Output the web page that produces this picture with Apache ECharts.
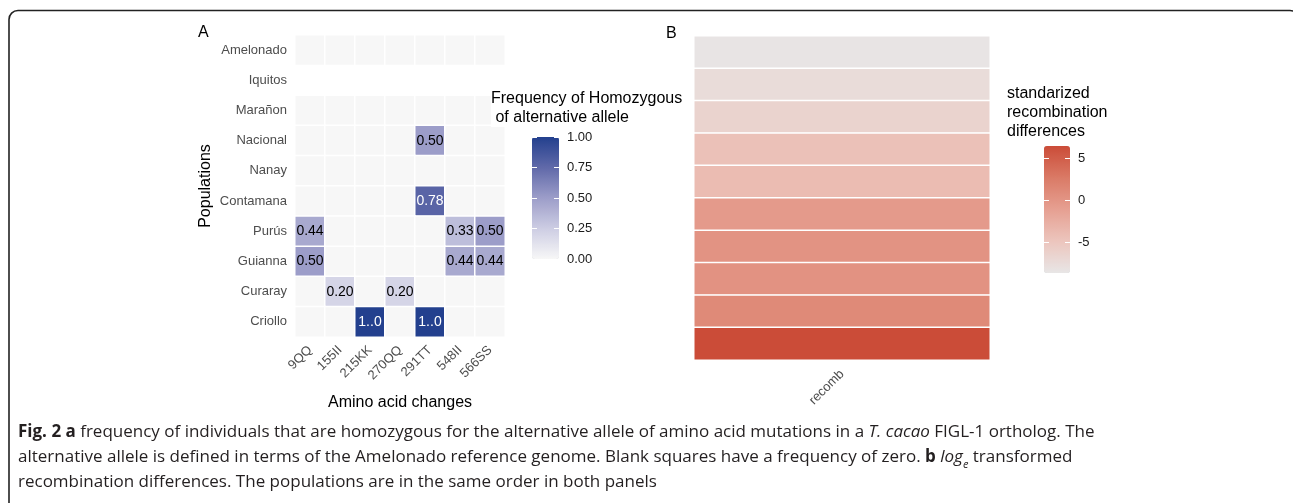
<!DOCTYPE html>
<html>
<head>
<meta charset="utf-8">
<script src="https://cdn.jsdelivr.net/npm/echarts@6/dist/echarts.min.js"></script>
<style>
  html, body { margin: 0; padding: 0; background: #fff; }
  #chart { width: 1293px; height: 503px; }
</style>
</head>
<body>
<div id="chart"></div>
<script>
// populations, top to bottom (same order in both panels)
const populations = ['Amelonado', 'Iquitos', 'Marañon', 'Nacional', 'Nanay', 'Contamana', 'Purús', 'Guianna', 'Curaray', 'Criollo'];
const mutations = ['9QQ', '155II', '215KK', '270QQ', '291TT', '548II', '566SS'];

// frequency of homozygous alternative allele, one row per population (null = no tiles)
const freq = [
    [0, 0, 0, 0, 0, 0, 0],          // Amelonado
    null,                           // Iquitos
    [0, 0, 0, 0, 0, 0, 0],          // Marañon
    [0, 0, 0, 0, 0.50, 0, 0],       // Nacional
    [0, 0, 0, 0, 0, 0, 0],          // Nanay
    [0, 0, 0, 0, 0.78, 0, 0],       // Contamana
    [0.44, 0, 0, 0, 0, 0.33, 0.50], // Purús
    [0.50, 0, 0, 0, 0, 0.44, 0.44], // Guianna
    [0, 0.20, 0, 0.20, 0, 0, 0],    // Curaray
    [0, 0, 1.0, 0, 1.0, 0, 0]       // Criollo
];

// standardized recombination differences (log_e), same population order
const recombDiff = [-8.4, -7.4, -6.4, -4.4, -3.9, -0.5, 0.2, 0.3, 1.1, 6.4];
const recombCats = ['recomb'];

const recombTicks = [-5, 0, 5];
const recombRange = [-8.58, 6.42];

const blues = ['#f7f7f7', '#cdcde3', '#9c9dc9', '#6069a9', '#23408e'];
const reds = ['#e8e6e6', '#ecc5bd', '#e6a092', '#da7a66', '#cb4c38'];

const FONT = 'Liberation Sans, Arial, sans-serif';
const CAPTION_FONT = 'Open Sans, sans-serif';

const freqData = [];
freq.forEach((row, y) => {
    if (!row) return;
    row.forEach((v, x) => {
        freqData.push({
            value: [x, y, v],
            label: {
                show: v > 0,
                color: v >= 0.75 ? '#fff' : '#000'
            }
        });
    });
});

const recombData = recombDiff.map((v, y) => [0, y, v]);

const chart = echarts.init(document.getElementById('chart'));

const catLabel = { color: '#4d4d4d', fontSize: 13, fontFamily: FONT };

chart.setOption({
    animation: false,
    backgroundColor: '#fff',
    textStyle: { fontFamily: FONT },
    grid: [
        { left: 295, top: 35, width: 210, height: 302 },
        { left: 694, top: 36, width: 296, height: 324 },
        { left: 532, top: 137, width: 27, height: 122 },
        { left: 1044, top: 146, width: 26, height: 127 }
    ],
    xAxis: [
        {
            gridIndex: 0, type: 'category', data: mutations, offset: 5,
            axisLine: { show: false },
            axisTick: { alignWithLabel: true, length: 3, lineStyle: { color: '#333' } },
            axisLabel: Object.assign({ rotate: 45, margin: 6, interval: 0 }, catLabel),
            splitLine: { show: false },
            name: 'Amino acid changes', nameLocation: 'middle', nameGap: 53,
            nameTextStyle: { color: '#000', fontSize: 16, fontFamily: FONT }
        },
        {
            gridIndex: 1, type: 'category', data: recombCats,
            axisLine: { show: false }, axisTick: { show: false },
            axisLabel: Object.assign({ rotate: 45, margin: 12 }, catLabel)
        },
        { gridIndex: 2, type: 'value', show: false },
        { gridIndex: 3, type: 'value', show: false }
    ],
    yAxis: [
        {
            gridIndex: 0, type: 'category', data: populations, inverse: true, offset: 5,
            axisLine: { show: false },
            axisTick: { alignWithLabel: true, length: 3, lineStyle: { color: '#333' } },
            axisLabel: Object.assign({ margin: 3, interval: 0 }, catLabel),
            splitLine: { show: false },
            name: 'Populations', nameLocation: 'middle', nameGap: 76, nameRotate: 90,
            nameTextStyle: { color: '#000', fontSize: 16, fontFamily: FONT }
        },
        {
            gridIndex: 1, type: 'category', data: populations, inverse: true,
            axisLine: { show: false }, axisTick: { show: false }, axisLabel: { show: false }
        },
        // colour bar A: white tick dashes on the left edge
        {
            gridIndex: 2, type: 'value', min: 0, max: 1, interval: 0.25, position: 'left', z: 10,
            axisLine: { show: false }, splitLine: { show: false }, axisLabel: { show: false },
            axisTick: { inside: true, length: 5, lineStyle: { color: '#fff', width: 1 } }
        },
        // colour bar A: right dashes and labels
        {
            gridIndex: 2, type: 'value', min: 0, max: 1, interval: 0.25, position: 'right', z: 10,
            axisLine: { show: false }, splitLine: { show: false },
            axisTick: { inside: true, length: 5, lineStyle: { color: '#fff', width: 1 } },
            axisLabel: { margin: 8, color: '#1a1a1a', fontSize: 13, fontFamily: FONT, formatter: v => v.toFixed(2) }
        },
        // colour bar B
        {
            gridIndex: 3, type: 'value', min: recombRange[0], max: recombRange[1], position: 'left', z: 10,
            axisLine: { show: false }, splitLine: { show: false }, axisLabel: { show: false },
            axisTick: { inside: true, length: 5, customValues: recombTicks, lineStyle: { color: '#fff', width: 1 } }
        },
        {
            gridIndex: 3, type: 'value', min: recombRange[0], max: recombRange[1], position: 'right', z: 10,
            axisLine: { show: false }, splitLine: { show: false },
            axisTick: { inside: true, length: 5, customValues: recombTicks, lineStyle: { color: '#fff', width: 1 } },
            axisLabel: { margin: 8, color: '#1a1a1a', fontSize: 13, fontFamily: FONT, customValues: recombTicks }
        }
    ],
    visualMap: [
        {
            type: 'continuous', seriesIndex: 0, min: 0, max: 1,
            left: 532, top: 137, itemWidth: 27, itemHeight: 122, padding: 0,
            calculable: false, hoverLink: false, z: 2,
            inRange: { color: blues }
        },
        {
            type: 'continuous', seriesIndex: 1, min: recombRange[0], max: recombRange[1],
            left: 1044, top: 146, itemWidth: 26, itemHeight: 127, padding: 0,
            calculable: false, hoverLink: false, z: 2,
            inRange: { color: reds }
        }
    ],
    series: [
        {
            type: 'heatmap', xAxisIndex: 0, yAxisIndex: 0, data: freqData,
            itemStyle: { borderColor: '#fff', borderWidth: 1.5 },
            label: {
                fontSize: 14, fontFamily: FONT,
                formatter: p => p.value[2] === 1 ? '1..0' : p.value[2].toFixed(2)
            },
            emphasis: { disabled: true }
        },
        {
            type: 'heatmap', xAxisIndex: 1, yAxisIndex: 1, data: recombData,
            itemStyle: { borderColor: '#fff', borderWidth: 1.5 },
            emphasis: { disabled: true }
        }
    ],
    graphic: [
        {
            type: 'rect', silent: true, z: 100,
            shape: { x: 9, y: 10.5, width: 1290, height: 600, r: 9 },
            style: { fill: 'none', stroke: '#222', lineWidth: 1.6 }
        },
        { type: 'text', left: 198, top: 25, z: 50, style: { text: 'A', font: '16px ' + FONT, fill: '#000' } },
        { type: 'text', left: 666, top: 26, z: 50, style: { text: 'B', font: '16px ' + FONT, fill: '#000' } },
        {
            type: 'text', left: 491, top: 89, z: 50,
            style: {
                text: 'Frequency of Homozygous\n of alternative allele', font: '16px ' + FONT,
                lineHeight: 19, fill: '#000', backgroundColor: '#fff'
            }
        },
        {
            type: 'text', left: 1007, top: 84, z: 50,
            style: { text: 'standarized\nrecombination\ndifferences', font: '16px ' + FONT, lineHeight: 19, fill: '#000' }
        },
        {
            type: 'text', left: 18, top: 420, z: 50,
            style: {
                text: '{b|Fig. 2 a} frequency of individuals that are homozygous for the alternative allele of amino acid mutations in a {i|T. cacao} FIGL-1 ortholog. The\n' +
                      'alternative allele is defined in terms of the Amelonado reference genome. Blank squares have a frequency of zero. {b|b} {i|log}{sub|e} transformed\n' +
                      'recombination differences. The populations are in the same order in both panels',
                fontFamily: CAPTION_FONT,
                fontSize: 17, lineHeight: 25, fill: '#231f20',
                rich: {
                    b: { fontWeight: 'bold', fontSize: 17, lineHeight: 25, fontFamily: CAPTION_FONT },
                    i: { fontStyle: 'italic', fontSize: 17, lineHeight: 25, fontFamily: CAPTION_FONT },
                    sub: { fontStyle: 'italic', fontSize: 11, lineHeight: 25, verticalAlign: 'bottom', fontFamily: CAPTION_FONT }
                }
            }
        }
    ]
});

window.addEventListener('resize', () => chart.resize());
</script>
</body>
</html>
